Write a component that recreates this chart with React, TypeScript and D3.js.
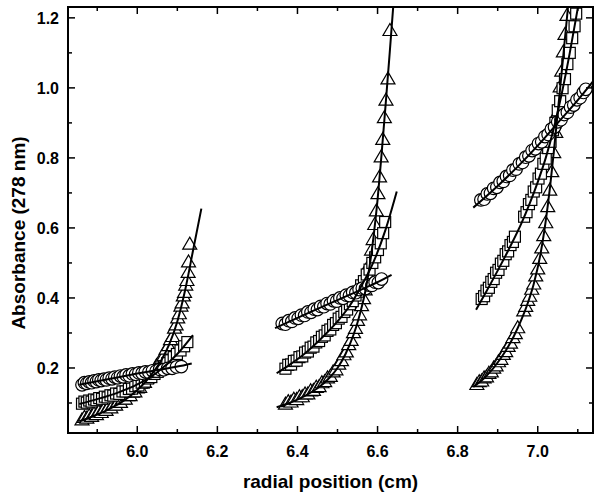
import React from 'react';
import * as d3 from 'd3';

// tick values
const xMajor = [6.0, 6.2, 6.4, 6.6, 6.8, 7.0];
const xMinor = [5.9, 6.1, 6.3, 6.5, 6.7, 6.9, 7.1];
const yMajor = [0.2, 0.4, 0.6, 0.8, 1.0, 1.2];
const yMinor = [0.1, 0.3, 0.5, 0.7, 0.9, 1.1];

// left cell (lowest speed)
const g1Circles = [[5.862,0.152],[5.868,0.158],[5.874,0.156],[5.880,0.160],[5.886,0.158],[5.892,0.163],[5.898,0.161],[5.904,0.166],[5.910,0.164],[5.917,0.168],[5.923,0.166],[5.930,0.171],[5.937,0.169],[5.944,0.174],[5.951,0.172],[5.958,0.177],[5.965,0.175],[5.972,0.180],[5.980,0.178],[5.988,0.183],[5.996,0.182],[6.004,0.186],[6.012,0.185],[6.020,0.189],[6.029,0.188],[6.038,0.192],[6.047,0.191],[6.056,0.196],[6.066,0.195],[6.076,0.199],[6.087,0.199],[6.098,0.203],[6.110,0.204]];
const g1CirclesFit = [[5.855,0.152],[5.9,0.162],[5.95,0.173],[6.0,0.184],[6.05,0.194],[6.1,0.204],[6.136,0.213]];

const g1Squares = [[5.862,0.098],[5.868,0.104],[5.874,0.101],[5.880,0.107],[5.886,0.104],[5.892,0.110],[5.898,0.108],[5.905,0.114],[5.912,0.112],[5.919,0.118],[5.926,0.116],[5.933,0.122],[5.940,0.121],[5.947,0.127],[5.955,0.126],[5.963,0.133],[5.971,0.133],[5.979,0.140],[5.987,0.141],[5.995,0.148],[6.003,0.150],[6.011,0.158],[6.019,0.161],[6.027,0.170],[6.035,0.174],[6.043,0.183],[6.051,0.189],[6.059,0.198],[6.067,0.205],[6.075,0.214],[6.083,0.222],[6.091,0.231],[6.099,0.240],[6.108,0.250],[6.117,0.262],[6.125,0.274]];
const g1SquaresFit = [[5.855,0.097],[5.9,0.111],[5.95,0.129],[6.0,0.153],[6.05,0.188],[6.1,0.24],[6.139,0.294]];

const g1Triangles = [[5.862,0.049],[5.868,0.056],[5.874,0.054],[5.880,0.061],[5.886,0.059],[5.892,0.066],[5.898,0.064],[5.904,0.072],[5.910,0.070],[5.916,0.078],[5.922,0.076],[5.928,0.085],[5.934,0.083],[5.940,0.092],[5.946,0.091],[5.952,0.100],[5.958,0.099],[5.964,0.108],[5.970,0.108],[5.976,0.118],[5.982,0.118],[5.988,0.128],[5.994,0.129],[6.000,0.140],[6.006,0.142],[6.012,0.154],[6.018,0.156],[6.024,0.169],[6.030,0.172],[6.036,0.185],[6.042,0.189],[6.048,0.204],[6.054,0.209],[6.060,0.225],[6.066,0.231],[6.072,0.251],[6.078,0.261],[6.083,0.278],[6.088,0.287],[6.093,0.311],[6.097,0.320],[6.101,0.340],[6.105,0.352],[6.109,0.374],[6.112,0.383],[6.115,0.403],[6.118,0.413],[6.121,0.434],[6.124,0.447],[6.127,0.470],[6.128,0.500],[6.131,0.551]];
const g1TrianglesFit = [[5.855,0.048],[5.88,0.058],[5.90,0.067],[5.92,0.077],[5.94,0.089],[5.96,0.102],[5.98,0.118],[6.00,0.137],[6.02,0.160],[6.04,0.188],[6.06,0.222],[6.08,0.268],[6.10,0.333],[6.12,0.425],[6.14,0.540],[6.16,0.655]];

// middle cell
const g2Circles = [[6.362,0.327],[6.370,0.325],[6.378,0.335],[6.386,0.333],[6.394,0.343],[6.402,0.342],[6.410,0.351],[6.418,0.350],[6.426,0.360],[6.434,0.359],[6.442,0.368],[6.450,0.367],[6.458,0.376],[6.466,0.375],[6.474,0.384],[6.482,0.383],[6.490,0.392],[6.498,0.391],[6.506,0.400],[6.514,0.399],[6.522,0.408],[6.530,0.407],[6.538,0.416],[6.546,0.415],[6.554,0.424],[6.562,0.428],[6.570,0.427],[6.578,0.437],[6.586,0.436],[6.594,0.445],[6.602,0.444],[6.610,0.454]];
const g2CirclesFit = [[6.344,0.314],[6.40,0.343],[6.45,0.369],[6.50,0.394],[6.55,0.419],[6.60,0.445],[6.635,0.466]];

const g2Squares = [[6.370,0.198],[6.377,0.209],[6.384,0.210],[6.391,0.220],[6.398,0.221],[6.405,0.231],[6.412,0.233],[6.419,0.244],[6.426,0.247],[6.433,0.258],[6.440,0.261],[6.447,0.273],[6.454,0.277],[6.461,0.289],[6.468,0.293],[6.475,0.306],[6.482,0.310],[6.489,0.323],[6.496,0.328],[6.503,0.341],[6.510,0.346],[6.517,0.360],[6.524,0.367],[6.531,0.382],[6.538,0.391],[6.545,0.407],[6.552,0.418],[6.559,0.436],[6.566,0.448],[6.573,0.467],[6.580,0.481],[6.587,0.500],[6.594,0.516],[6.601,0.537],[6.608,0.556],[6.614,0.585],[6.619,0.617]];
const g2SquaresFit = [[6.348,0.185],[6.38,0.209],[6.42,0.243],[6.46,0.285],[6.50,0.333],[6.53,0.377],[6.56,0.435],[6.59,0.503],[6.62,0.595],[6.648,0.704]];

const g2Triangles = [[6.370,0.094],[6.377,0.101],[6.384,0.100],[6.391,0.108],[6.398,0.107],[6.405,0.115],[6.412,0.115],[6.419,0.123],[6.426,0.123],[6.433,0.132],[6.440,0.133],[6.447,0.142],[6.454,0.144],[6.461,0.155],[6.468,0.158],[6.475,0.169],[6.482,0.173],[6.489,0.186],[6.496,0.192],[6.503,0.208],[6.510,0.218],[6.516,0.235],[6.522,0.243],[6.528,0.264],[6.534,0.276],[6.540,0.298],[6.545,0.310],[6.550,0.333],[6.555,0.349],[6.560,0.375],[6.565,0.395],[6.569,0.420],[6.573,0.440],[6.577,0.472],[6.581,0.496],[6.585,0.534],[6.589,0.564],[6.593,0.607],[6.597,0.646],[6.601,0.695],[6.605,0.743],[6.609,0.800],[6.613,0.850],[6.617,0.912],[6.621,0.962],[6.626,1.023],[6.631,1.161]];
const g2TrianglesFit = [[6.348,0.088],[6.38,0.100],[6.42,0.121],[6.45,0.142],[6.48,0.172],[6.50,0.200],[6.52,0.240],[6.54,0.295],[6.55,0.330],[6.56,0.372],[6.57,0.422],[6.58,0.490],[6.59,0.575],[6.60,0.680],[6.61,0.810],[6.62,0.950],[6.63,1.095],[6.64,1.245]];

// right cell
const g3Circles = [[6.858,0.680],[6.866,0.682],[6.874,0.697],[6.882,0.699],[6.890,0.713],[6.898,0.716],[6.906,0.730],[6.914,0.733],[6.922,0.747],[6.930,0.750],[6.938,0.765],[6.946,0.768],[6.954,0.783],[6.962,0.787],[6.970,0.802],[6.978,0.806],[6.986,0.821],[6.994,0.826],[7.002,0.841],[7.010,0.846],[7.018,0.861],[7.026,0.867],[7.034,0.882],[7.042,0.888],[7.050,0.903],[7.058,0.909],[7.066,0.924],[7.074,0.930],[7.082,0.945],[7.090,0.951],[7.098,0.966],[7.106,0.972],[7.114,0.987],[7.120,0.996]];
const g3CirclesFit = [[6.839,0.658],[6.90,0.72],[6.95,0.775],[7.0,0.835],[7.05,0.9],[7.1,0.965],[7.139,1.02]];

const g3Squares = [[6.860,0.397],[6.866,0.405],[6.872,0.421],[6.878,0.429],[6.884,0.446],[6.890,0.454],[6.896,0.472],[6.902,0.480],[6.908,0.498],[6.914,0.506],[6.920,0.525],[6.926,0.533],[6.932,0.551],[6.938,0.560],[6.943,0.575],[6.966,0.632],[6.972,0.645],[6.978,0.668],[6.984,0.680],[6.990,0.704],[6.996,0.716],[7.002,0.741],[7.008,0.755],[7.014,0.783],[7.020,0.798],[7.026,0.828],[7.032,0.846],[7.038,0.879],[7.044,0.900],[7.050,0.936],[7.056,0.962],[7.062,0.999],[7.068,1.025],[7.074,1.068],[7.080,1.100],[7.086,1.142],[7.092,1.176],[7.096,1.212]];
const g3SquaresFit = [[6.846,0.366],[6.87,0.415],[6.90,0.478],[6.93,0.544],[6.96,0.615],[6.98,0.670],[7.00,0.731],[7.02,0.800],[7.04,0.884],[7.06,0.984],[7.08,1.100],[7.10,1.228],[7.105,1.26]];

const g3Triangles = [[6.848,0.150],[6.854,0.158],[6.860,0.160],[6.866,0.169],[6.872,0.172],[6.878,0.182],[6.884,0.186],[6.890,0.197],[6.896,0.203],[6.902,0.215],[6.908,0.222],[6.914,0.236],[6.920,0.244],[6.926,0.259],[6.932,0.268],[6.938,0.284],[6.944,0.295],[6.950,0.312],[6.965,0.360],[6.970,0.373],[6.975,0.390],[6.980,0.402],[6.985,0.422],[6.990,0.437],[6.995,0.460],[7.000,0.480],[7.005,0.510],[7.010,0.540],[7.015,0.575],[7.020,0.612],[7.025,0.658],[7.030,0.705],[7.035,0.758],[7.040,0.812],[7.045,0.870],[7.050,0.928],[7.056,1.000],[7.060,1.045],[7.064,1.100],[7.068,1.150],[7.073,1.204]];
const g3TrianglesFit = [[6.839,0.146],[6.87,0.175],[6.906,0.225],[6.94,0.29],[6.96,0.34],[6.975,0.385],[6.99,0.44],[7.006,0.52],[7.02,0.62],[7.03,0.71],[7.043,0.85],[7.056,1.0],[7.067,1.13],[7.078,1.26]];

const circleSets = [g1Circles, g2Circles, g3Circles];
const squareSets = [g1Squares, g2Squares, g3Squares];
const triangleSets = [g1Triangles, g2Triangles, g3Triangles];
const fits = [g1CirclesFit, g1SquaresFit, g1TrianglesFit, g2CirclesFit, g2SquaresFit, g2TrianglesFit, g3CirclesFit, g3SquaresFit, g3TrianglesFit];

const W = 600;
const H = 498;
const left = 68, right = 593, top = 7, bottom = 433;
const font = '"Liberation Sans", Arial, sans-serif';

export default function App() {
  const x = d3.scaleLinear().domain([5.827, 7.138]).range([left, right]);
  const y = d3.scaleLinear().domain([0.0143, 1.231]).range([bottom, top]);

  const line = d3.line<number[]>()
    .x(d => x(d[0]))
    .y(d => y(d[1]))
    .curve(d3.curveMonotoneX);

  const tri = 'M0,-8 L7,4 L-7,4 Z';

  return (
    <svg width={W} height={H} style={{ position: 'absolute', left: 0, top: 0, background: '#fff' }}>
      <defs>
        <clipPath id="plot">
          <rect x={left} y={top} width={right - left} height={bottom - top} />
        </clipPath>
      </defs>

      <g clipPath="url(#plot)">
        {triangleSets.map((set, i) => (
          <g key={'t' + i}>
            {set.map((d, j) => (
              <path key={j} d={tri} transform={`translate(${x(d[0])},${y(d[1])})`}
                fill="#fff" stroke="#000" strokeWidth={1.2} />
            ))}
          </g>
        ))}
        {squareSets.map((set, i) => (
          <g key={'s' + i}>
            {set.map((d, j) => (
              <rect key={j} x={x(d[0]) - 5.5} y={y(d[1]) - 5.5} width={11} height={11}
                fill="#fff" stroke="#000" strokeWidth={1.2} />
            ))}
          </g>
        ))}
        {circleSets.map((set, i) => (
          <g key={'c' + i}>
            {set.map((d, j) => (
              <circle key={j} cx={x(d[0])} cy={y(d[1])} r={6.3}
                fill="#fff" stroke="#000" strokeWidth={1.2} />
            ))}
          </g>
        ))}
        {fits.map((f, i) => (
          <path key={'f' + i} d={line(f) || ''} fill="none" stroke="#000" strokeWidth={2} />
        ))}
      </g>

      {/* frame */}
      <rect x={left} y={top} width={right - left} height={bottom - top} fill="none" stroke="#000" strokeWidth={2} />

      {/* x ticks */}
      {xMajor.map(t => (
        <g key={'xm' + t}>
          <line x1={x(t)} x2={x(t)} y1={bottom} y2={bottom - 7} stroke="#000" strokeWidth={1.5} />
          <line x1={x(t)} x2={x(t)} y1={top} y2={top + 7} stroke="#000" strokeWidth={1.5} />
          <text x={x(t)} y={457} textAnchor="middle" fontFamily={font} fontWeight="bold" fontSize={16}>
            {t.toFixed(1)}
          </text>
        </g>
      ))}
      {xMinor.map(t => (
        <g key={'xn' + t}>
          <line x1={x(t)} x2={x(t)} y1={bottom} y2={bottom - 4} stroke="#000" strokeWidth={1.5} />
          <line x1={x(t)} x2={x(t)} y1={top} y2={top + 4} stroke="#000" strokeWidth={1.5} />
        </g>
      ))}

      {/* y ticks */}
      {yMajor.map(t => (
        <g key={'ym' + t}>
          <line x1={left} x2={left + 7} y1={y(t)} y2={y(t)} stroke="#000" strokeWidth={1.5} />
          <line x1={right} x2={right - 7} y1={y(t)} y2={y(t)} stroke="#000" strokeWidth={1.5} />
          <text x={59} y={y(t) + 6} textAnchor="end" fontFamily={font} fontWeight="bold" fontSize={16}>
            {t.toFixed(1)}
          </text>
        </g>
      ))}
      {yMinor.map(t => (
        <g key={'yn' + t}>
          <line x1={left} x2={left + 4} y1={y(t)} y2={y(t)} stroke="#000" strokeWidth={1.5} />
          <line x1={right} x2={right - 4} y1={y(t)} y2={y(t)} stroke="#000" strokeWidth={1.5} />
        </g>
      ))}

      <text x={(left + right) / 2} y={488} textAnchor="middle" fontFamily={font} fontWeight="bold" fontSize={19}>
        radial position (cm)
      </text>
      <text transform="translate(25,233) rotate(-90)" textAnchor="middle" fontFamily={font} fontWeight="bold" fontSize={19}>
        Absorbance (278 nm)
      </text>
    </svg>
  );
}
